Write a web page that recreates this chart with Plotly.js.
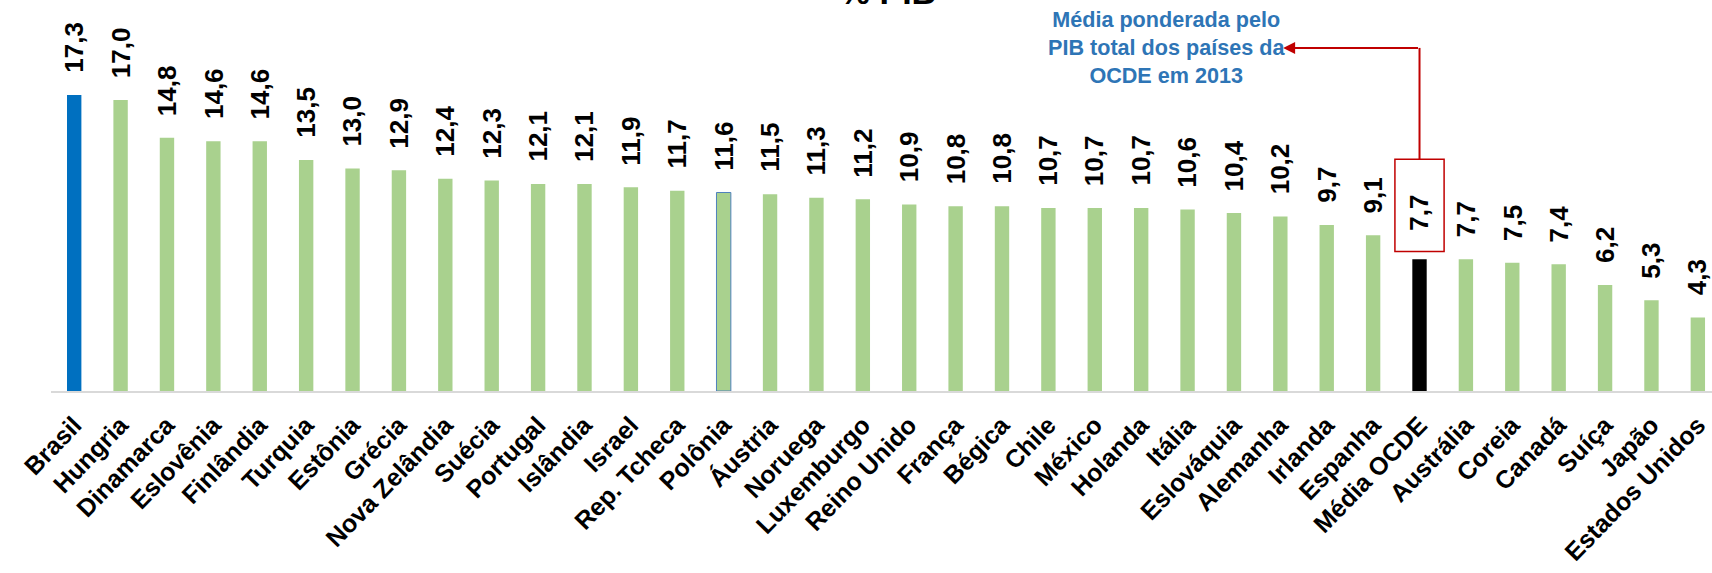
<!DOCTYPE html>
<html>
<head>
<meta charset="utf-8">
<script src="https://cdn.plot.ly/plotly-3.0.1.min.js"></script>
<style>html,body{margin:0;padding:0;background:#fff;}#chart{width:1712px;height:573px;}</style>
</head>
<body>
<div id="chart"></div>
<script>
const categories = ["Brasil","Hungria","Dinamarca","Eslovênia","Finlândia","Turquia","Estônia","Grécia","Nova Zelândia","Suécia","Portugal","Islândia","Israel","Rep. Tcheca","Polônia","Áustria","Noruega","Luxemburgo","Reino Unido","França","Bégica","Chile","México","Holanda","Itália","Eslováquia","Alemanha","Irlanda","Espanha","Média OCDE","Austrália","Coreia","Canadá","Suíça","Japão","Estados Unidos"];
const values = [17.3,17.0,14.8,14.6,14.6,13.5,13.0,12.9,12.4,12.3,12.1,12.1,11.9,11.7,11.6,11.5,11.3,11.2,10.9,10.8,10.8,10.7,10.7,10.7,10.6,10.4,10.2,9.7,9.1,7.7,7.7,7.5,7.4,6.2,5.3,4.3];
const titleText = "% PIB";
const noteText = "Média ponderada pelo<br>PIB total dos países da<br>OCDE em 2013";
const highlight = "Brasil";
const average = "Média OCDE";
const outlined = "Polônia";

const FONT = "Liberation Sans, Arial, sans-serif";
const GREEN = "#A9D18E", BLUE = "#0070C0", BLACK = "#000000", RED = "#C00000";

const colors = categories.map(c => c === highlight ? BLUE : (c === average ? BLACK : GREEN));
const lineColors = categories.map(c => c === outlined ? "#4F81BD" : "rgba(0,0,0,0)");
const lineWidths = categories.map(c => c === outlined ? 1 : 0);

const trace = {
  type: "bar",
  x: categories,
  y: values,
  width: 0.31,
  marker: {color: colors, line: {color: lineColors, width: lineWidths}},
  hoverinfo: "x+y"
};

const avgIdx = categories.indexOf(average);
const fmt = v => v.toFixed(1).replace(".", ",");

const annotations = categories.map((c, i) => ({
  x: c, y: values[i], xref: "x", yref: "y",
  text: fmt(values[i]), textangle: -90,
  showarrow: false, yanchor: "bottom", xanchor: "center",
  yshift: c === average ? 26 : 20,
  font: {family: FONT, size: 26, color: "#000", weight: 700}
}));

annotations.push({
  x: 1150/1712, y: 1 - 8/573, xref: "paper", yref: "paper",
  text: noteText, showarrow: false, xanchor: "center", yanchor: "top",
  align: "center",
  font: {family: FONT, size: 21.6, color: "#2E75B6", weight: 700}
});

// red arrow pointing to the note
annotations.push({
  x: avgIdx - 2.94, y: 20.05, xref: "x", yref: "y",
  ax: avgIdx, ay: 20.05, axref: "x", ayref: "y",
  text: "", showarrow: true, arrowhead: 2, arrowsize: 1.2, arrowwidth: 2, arrowcolor: RED, standoff: 0
});

const layout = {
  width: 1712, height: 573,
  margin: {l: 51, r: 0, t: 0, b: 182},
  paper_bgcolor: "#fff", plot_bgcolor: "#fff",
  showlegend: false,
  title: {text: titleText, xref: "container", yref: "container", x: 888/1712, y: 1 - 4/573, xanchor: "center", yanchor: "bottom",
          font: {family: FONT, size: 34, color: "#000", weight: 700}},
  xaxis: {
    type: "category", range: [-0.5, 35.305],
    showline: true, linecolor: "#D9D9D9", linewidth: 1.5,
    ticks: "", showgrid: false, zeroline: false,
    tickangle: -46, ticklabelstandoff: 8,
    tickfont: {family: FONT, size: 25, color: "#000", weight: 700}
  },
  yaxis: {range: [0, 22.85], visible: false, showgrid: false, zeroline: false},
  annotations: annotations,
  shapes: [
    {type: "rect", xref: "x", yref: "y", x0: avgIdx - 0.53, x1: avgIdx + 0.53, y0: 8.15, y1: 13.55,
     line: {color: RED, width: 1.5}, fillcolor: "rgba(0,0,0,0)"},
    {type: "line", xref: "x", yref: "y", x0: avgIdx, x1: avgIdx, y0: 13.55, y1: 20.05,
     line: {color: RED, width: 2}}
  ]
};

Plotly.newPlot("chart", [trace], layout, {displayModeBar: false, staticPlot: true});
</script>
</body>
</html>
